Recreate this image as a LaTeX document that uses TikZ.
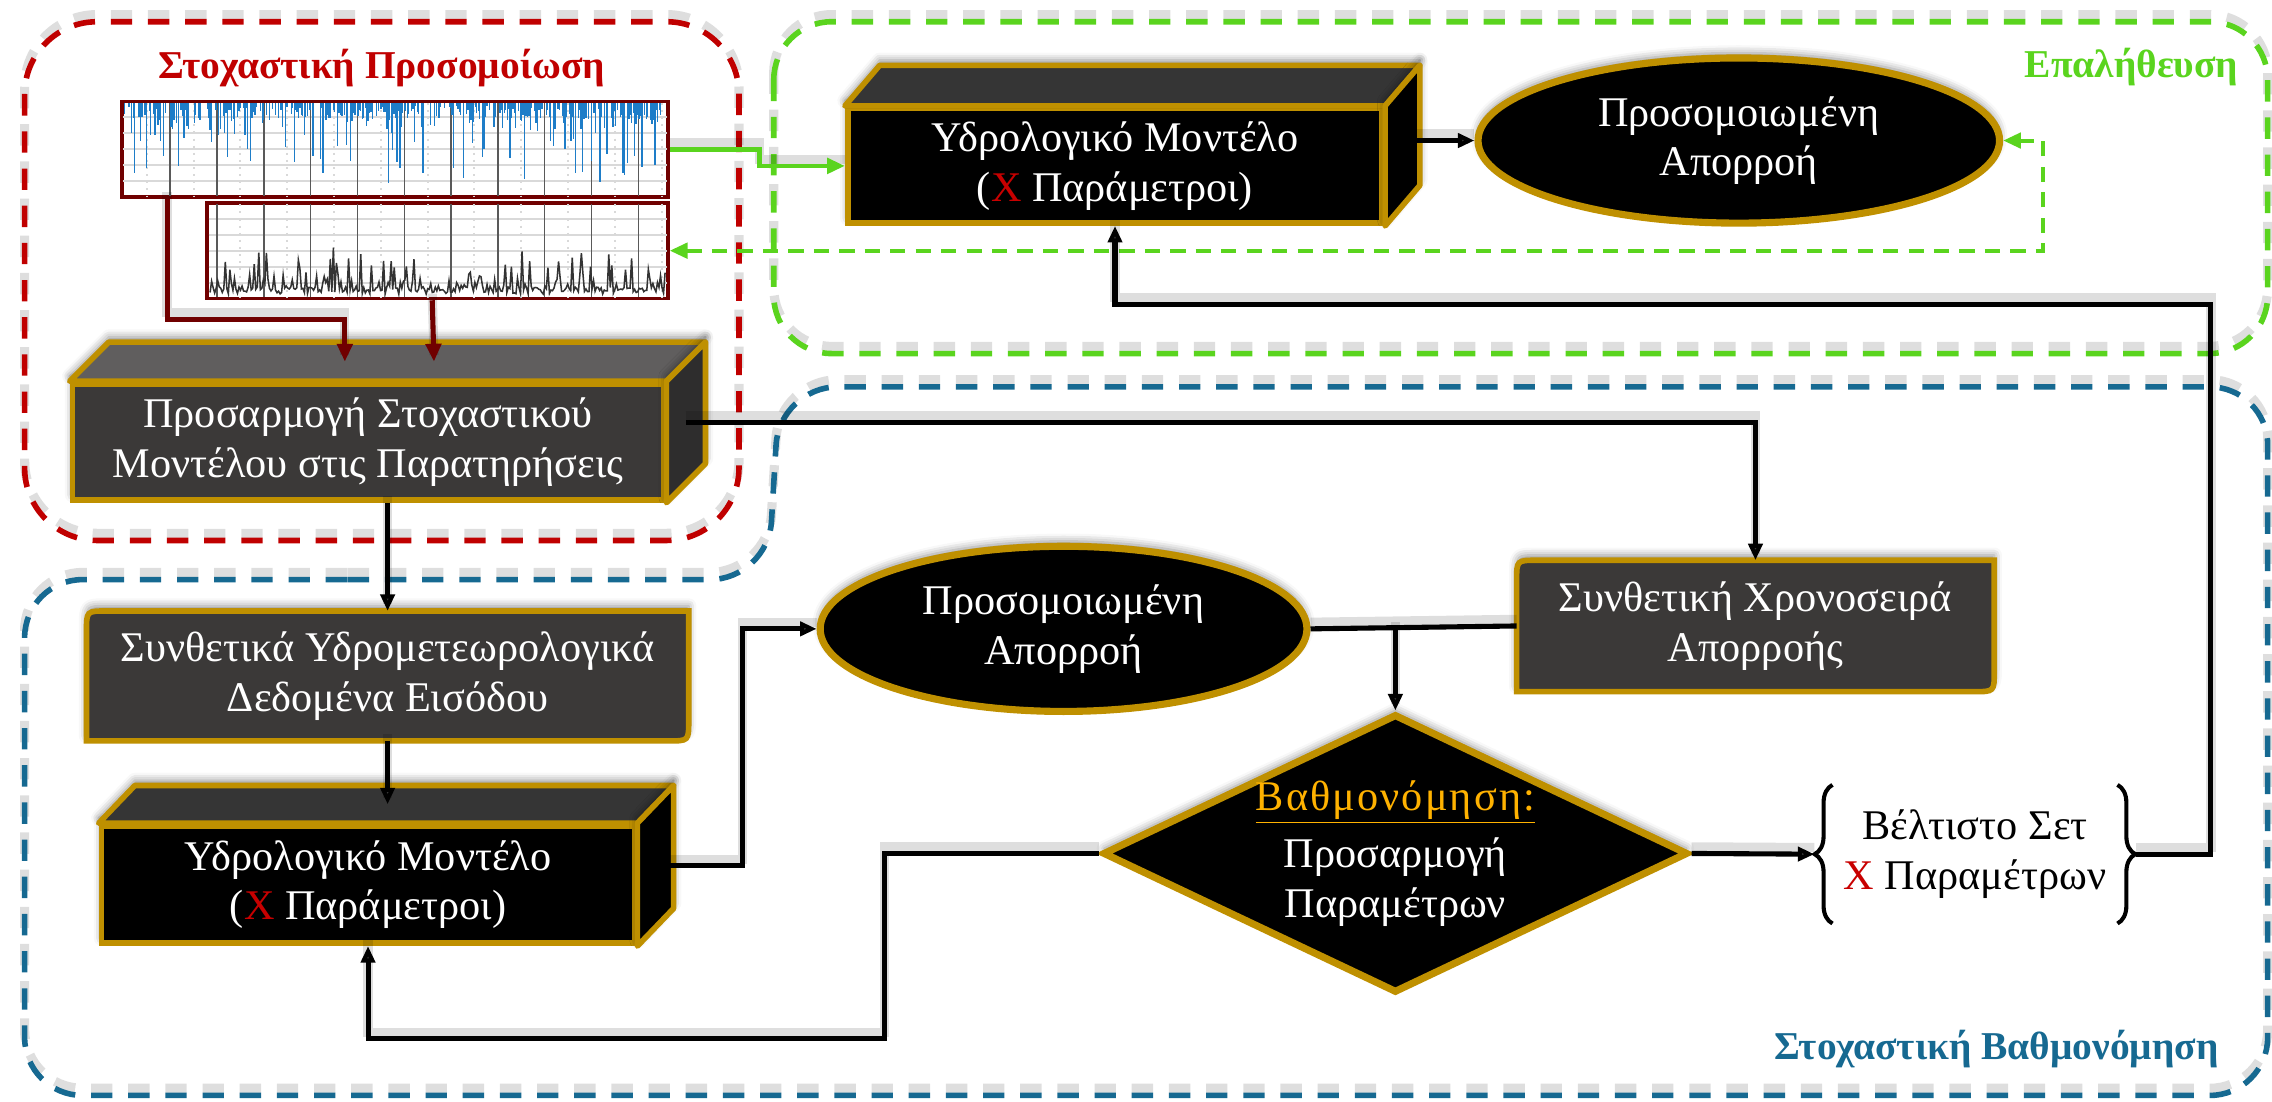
\documentclass[tikz,border=0pt]{standalone}
\usepackage{fontspec}
\setmainfont{Liberation Serif}
\usetikzlibrary{positioning,calc,shapes.geometric,arrows.meta,backgrounds,decorations.pathreplacing,shadows.blur}

\definecolor{bgcol}{RGB}{241,238,237}
\definecolor{gold}{RGB}{191,144,0}
\definecolor{boxgrey}{RGB}{59,57,56}
\definecolor{topgrey}{RGB}{96,94,94}
\definecolor{sidegrey}{RGB}{46,45,45}
\definecolor{topdark}{RGB}{53,53,53}
\definecolor{simred}{RGB}{192,0,0}
\definecolor{xred}{RGB}{200,0,0}
\definecolor{verigreen}{RGB}{90,212,30}
\definecolor{calblue}{RGB}{22,105,145}
\definecolor{chartbrown}{RGB}{112,0,0}
\definecolor{rainblue}{RGB}{30,125,200}
\definecolor{calorange}{RGB}{255,178,0}

\newcommand\boxfont{\fontsize{16.6}{19.5}\selectfont}
\newcommand\lblfont{\fontsize{15.5}{18}\selectfont\bfseries}
\newcommand\redX{\textcolor{xred}{X}}

% top and right face of a box node, plus two helper coordinates
\newcommand\cuboid[5]{%
  \draw[face,fill=#4] (#1.north west) -- ++(#2,#3) -- ($(#1.north east)+(#2,#3)$) -- (#1.north east) -- cycle;
  \draw[face,fill=#5] (#1.north east) -- ++(#2,#3) -- ($(#1.south east)+(#2,#3)$) -- (#1.south east) -- cycle;
  \coordinate (#1-top) at ($(#1.north)+(#2/2,#3/2)$);
  \coordinate (#1-side) at ($(#1.east)+(#2/2,#3/2)$);}

% box with two rounded diagonal corners
\newcommand\roundpair[2]{%
  \draw[dataedge] (#1.south west) -- ($(#1.north west)+(0,#2)$) .. controls (#1.north west) .. ($(#1.north west)+(#2,0)$)
    -- (#1.north east) -- ($(#1.south east)+(0,-#2)$) .. controls (#1.south east) .. ($(#1.south east)+(-#2,0)$) -- cycle;}

\begin{document}
\begin{tikzpicture}[x=0.02cm,y=-0.02cm,
  soft/.style={blur shadow={shadow xshift=0pt,shadow yshift=2pt,shadow blur radius=3pt,shadow opacity=45}},
  haze/.style={preaction={draw=black,opacity=0.13,line width=3.6pt,-,transform canvas={yshift=2.6pt}}},
  conn/.style={haze,line width=2pt},
  arr/.style={conn,-{Triangle[length=6.5pt,width=5.5pt]}},
  brownarr/.style={haze,line width=2pt,chartbrown,-{Triangle[length=7pt,width=6pt]}},
  greenarr/.style={haze,line width=1.8pt,verigreen,-{Triangle[length=7pt,width=6pt]}},
  greendash/.style={line width=1.6pt,verigreen,dash pattern=on 6pt off 4pt,{Triangle[length=7pt,width=6pt]}-{Triangle[length=7pt,width=6pt]}},
  frame/.style={line width=2.2pt,dash pattern=on 8.4pt off 6.2pt,
    preaction={draw=black,opacity=0.13,line width=3.6pt,dash pattern=on 8.4pt off 6.2pt,transform canvas={yshift=2.8pt}}},
  front/.style={soft,draw=gold,line width=2.2pt,text=white,align=center,inner sep=0pt,font=\boxfont},
  face/.style={soft,draw=gold,line width=2.2pt,line join=round},
  flowoval/.style={soft,ellipse,draw=gold,line width=2.8pt,fill=black,text=white,align=center,inner sep=0pt,font=\boxfont},
  datatext/.style={text=white,align=center,inner sep=0pt,font=\boxfont},
  dataedge/.style={soft,draw=gold,fill=boxgrey,line width=2.2pt},
  calibshape/.style={soft,diamond,aspect=2.1,draw=gold,line width=2.8pt,fill=black,text=white,align=center,
    inner sep=0pt,minimum width=7.92cm,minimum height=3.76cm,font=\boxfont},
  chart/.style={draw=chartbrown,line width=1.4pt,fill=white,inner sep=0pt},
  gridmajor/.style={black!65,line width=0.6pt},
  gridminor/.style={black!15,line width=0.8pt},
  rain/.style={rainblue,line width=0.5pt},
  flow/.style={black!80,line width=0.6pt},
  brace/.style={decorate,decoration={brace,amplitude=7pt},line width=1.6pt},
  lbl/.style={font=\lblfont,inner sep=0pt}]

\useasboundingbox (0,0) rectangle (1568,760);
\begin{pgfonlayer}{background}
  \fill[bgcol] (0,0) rectangle (1568,760);
\end{pgfonlayer}
% first blur shadow, hidden later under the upper model box
\path[soft,fill=black] (768,113) rectangle (770,115);

% dashed groups
\draw[frame,simred,rounded corners=1cm] (17,15) rectangle (510,373);
\draw[frame,verigreen,rounded corners=0.8cm] (534,15) rectangle (1565,244);
\draw[frame,calblue,rounded corners=0.8cm] (200,400) -- (530,400) -- (538,267) -- (1565,267) -- (1565,756) -- (17,756) -- (17,400) -- cycle;
\node[lbl,simred] (lblSim) at (263.5,47) {Στοχαστική Προσομοίωση};
\node[lbl,verigreen] (lblVer) at (1471,46) {Επαλήθευση};
\node[lbl,calblue] (lblCal) at (1378,724) {Στοχαστική Βαθμονόμηση};

% rainfall chart
\pgfmathsetseed{12}
\node[chart,minimum width=7.54cm,minimum height=1.32cm] (rainC) at (272.5,103) {};
\foreach \f in {1,...,5} \draw[gridminor] (85,70+11*\f) -- (460,70+11*\f);
\foreach \k in {0,...,11} \draw[gridminor,dotted] (101.35+32.3*\k,71) -- ++(0,64);
\foreach \k in {0,...,10} \draw[gridmajor] (117.5+32.3*\k,71) -- ++(0,64);
\foreach \i in {0,...,370}{
  \pgfmathsetmacro\barlen{(rnd<0.75)*(2+10*rnd+46*pow(rnd,7))}
  \draw[rain] (86+\i,71) -- ++(0,\barlen);}

% runoff chart
\node[chart,minimum width=6.36cm,minimum height=1.32cm] (flowC) at (302,173) {};
\foreach \f in {1,...,5} \draw[gridminor] (144,140+11*\f) -- (460,140+11*\f);
\foreach \k in {2,...,11} \draw[gridminor,dotted] (101.35+32.3*\k,141) -- ++(0,64);
\foreach \k in {1,...,10} \draw[gridmajor] (117.5+32.3*\k,141) -- ++(0,64);
\draw[flow] plot[domain=145:459,samples=300] (\x,{203-5*rnd-28*pow(rnd,7)});

% boxes
\node[front,fill=boxgrey,minimum width=8.16cm,minimum height=1.6cm] (fit) at (254,305) {Προσαρμογή Στοχαστικού\\Μοντέλου στις Παρατηρήσεις};
\cuboid{fit}{27}{-27}{topgrey}{sidegrey}
\node[front,fill=black,minimum width=7.38cm,minimum height=1.58cm] (hydroT) at (769.5,114.5) {Υδρολογικό Μοντέλο\\(\redX{} Παράμετροι)};
\cuboid{hydroT}{24}{-28}{topdark}{black}
\node[flowoval,minimum width=7.2cm,minimum height=2.28cm] (simT) at (1200,97) {Προσομοιωμένη\\Απορροή};
\node[datatext,minimum width=8.3cm,minimum height=1.78cm] (syn) at (267.5,466.5) {Συνθετικά Υδρομετεωρολογικά\\Δεδομένα Εισόδου};
\node[front,fill=black,minimum width=7.36cm,minimum height=1.62cm] (hydroB) at (254,610.5) {Υδρολογικό Μοντέλο\\(\redX{} Παράμετροι)};
\cuboid{hydroB}{25}{-26}{topdark}{black}
\node[flowoval,minimum width=6.72cm,minimum height=2.28cm] (simB) at (734,434) {Προσομοιωμένη\\Απορροή};
\node[datatext,minimum width=6.58cm,minimum height=1.8cm] (series) at (1211.5,432) {Συνθετική Χρονοσειρά\\Απορροής};
\node[calibshape] (calib) at (963,589) {{\color{calorange}\addfontfeatures{LetterSpace=5}\underline{Βαθμονόμηση:}}\\[3pt]Προσαρμογή\\Παραμέτρων};
\node[inner sep=0pt,minimum width=3.92cm,minimum height=1.9cm,align=center,font=\boxfont] (best) at (1363,589.5) {Βέλτιστο Σετ\\\redX{} Παραμέτρων};
\draw[brace] (best.south west) -- (best.north west);
\draw[brace] (best.north east) -- (best.south east);
\coordinate (bL) at ($(best.west)+(-12.5,0)$);
\coordinate (bR) at ($(best.east)+(12.5,0)$);
\begin{pgfonlayer}{background}
  \roundpair{syn}{14}
  \roundpair{series}{14}
\end{pgfonlayer}

% connectors
\draw[brownarr] ($(rainC.south west)+(32.5,0)$) -- ++(0,83) -| ($(fit-top)+(-29.5,0)$);
\draw[brownarr] ($(flowC.south west)+(156.5,0)$) -- ($(fit-top)+(32,0)$);
\draw[greenarr] (rainC.east) -- ++(62,0) |- (hydroT.west);
\draw[arr] (simT.west -| hydroT-side) -- (simT.west);
\draw[greendash] (flowC.east) -- ++(948,0) |- (simT.east);
\draw[arr] (bR) -- ++(52,0) |- ($(hydroT.south)+(0,54)$) -- (hydroT.south);
\draw[arr] (fit.south -| syn.north) -- (syn.north);
\draw[arr] (fit-side) -| (series.north);
\draw[arr] (syn.south) -- (syn.south |- hydroB-top);
\draw[arr] (hydroB-side) -- ++(60,0) |- (simB.west);
\draw[conn] (simB.east) -- (series.west);
\draw[arr] (simB.east -| calib.north) -- (calib.north);
\draw[arr] (calib.west) -- ++(-148,0) |- ($(hydroB.south)+(0,64)$) -- (hydroB.south);
\draw[arr] (calib.east) -- (bL);
\end{tikzpicture}
\end{document}
